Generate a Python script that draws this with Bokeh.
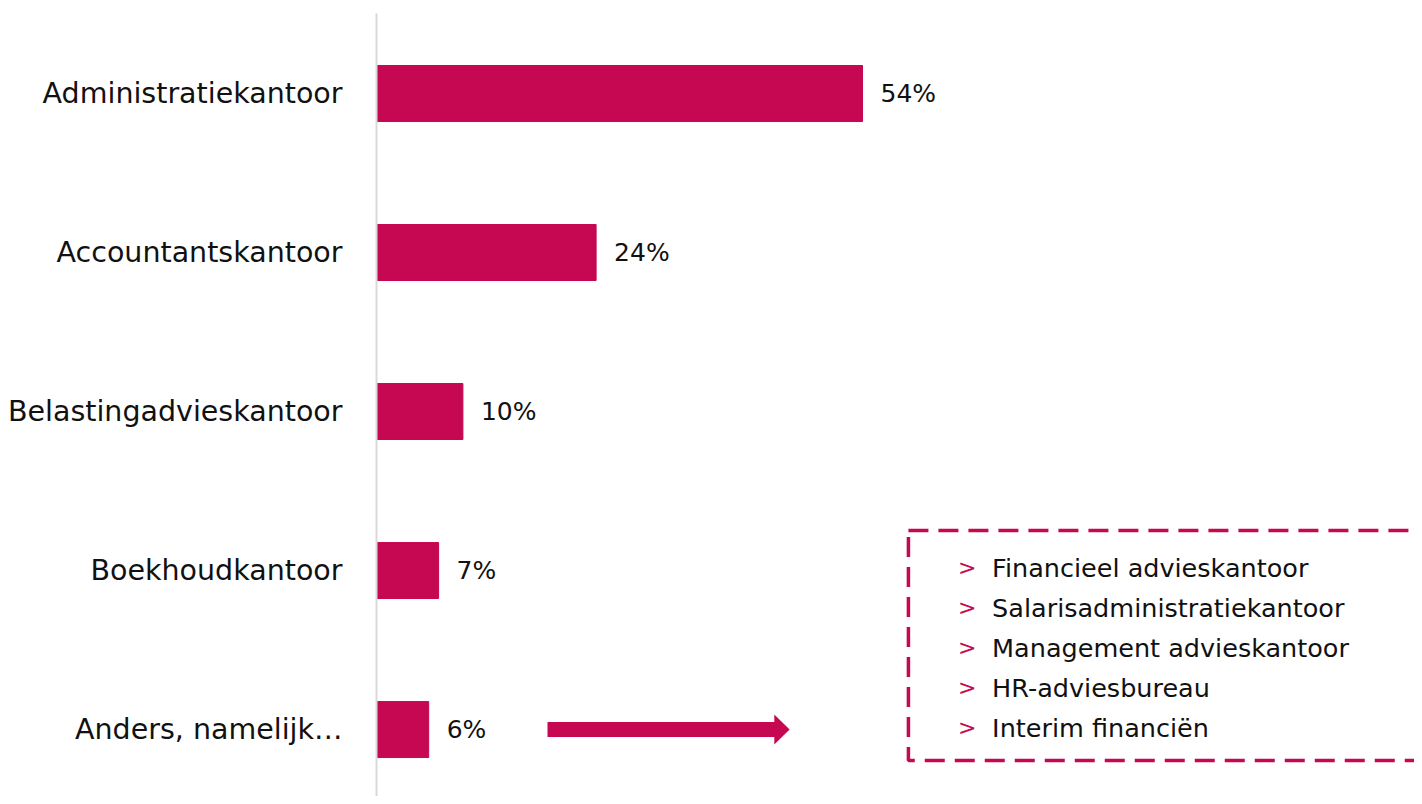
from bokeh.plotting import figure
from bokeh.models import FixedTicker, ColumnDataSource
from bokeh.embed import file_html
from bokeh.resources import INLINE
from bokeh.core.properties import value

categories = ["Administratiekantoor", "Accountantskantoor", "Belastingadvieskantoor",
              "Boekhoudkantoor", "Anders, namelijk…"]
values = [54.0, 24.4, 9.6, 6.9, 5.8]
value_labels = ["54%", "24%", "10%", "7%", "6%"]
other_items = ["Financieel advieskantoor", "Salarisadministratiekantoor",
               "Management advieskantoor", "HR-adviesbureau", "Interim financiën"]

COLOR = "#C60751"
FONT = "DejaVu Sans"

n = len(categories)
ypos = [n - 1 - i for i in range(n)]

p = figure(width=1414, height=796, output_backend="svg", toolbar_location=None,
           x_range=(0, 115.33), y_range=(-0.421, 4.503),
           min_border_left=376, min_border_right=0, min_border_top=13, min_border_bottom=0)
p.xaxis.visible = False
p.grid.visible = False
p.outline_line_color = None

src = ColumnDataSource(dict(y=ypos, v=values, lab=value_labels))
p.hbar(y="y", right="v", left=0, height=0.352, source=src, color=COLOR)
p.text(x="v", y="y", text="lab", source=src, x_offset=18, text_baseline="middle",
       text_font=value(FONT), text_font_size="25px", text_color="#111111")

ax = p.yaxis[0]
ax.ticker = FixedTicker(ticks=ypos)
ax.major_label_overrides = {y: c for y, c in zip(ypos, categories)}
ax.major_tick_line_color = None
ax.minor_tick_line_color = None
ax.axis_line_color = "#d9d9d9"
ax.axis_line_width = 2
ax.major_label_standoff = 28
ax.major_label_text_font = FONT
ax.major_label_text_font_size = "28.5px"
ax.major_label_text_color = "#111111"

# arrow (decoration)
ax0, ax1, head_x = 19.0, 45.9, 44.2
sh, hh = 0.047, 0.094
p.patch([ax0, head_x, head_x, ax1, head_x, head_x, ax0],
        [sh, sh, hh, 0, -hh, -sh, -sh], color=COLOR, line_width=0)

# dashed box (decoration)
p.quad(left=59.1, right=130, top=1.252, bottom=-0.195, fill_color=None,
       line_color=COLOR, line_width=3.5, line_dash="20 10")

step = 40 / 159
ly = [1.019 - i * step for i in range(len(other_items))]
p.text(x=[64.6] * len(other_items), y=ly, text=[">"] * len(other_items),
       text_baseline="middle", text_font=value(FONT), text_font_size="22px",
       text_color=COLOR)
p.text(x=[68.4] * len(other_items), y=ly, text=other_items,
       text_baseline="middle", text_font=value(FONT), text_font_size="25.5px",
       text_color="#111111")

open("out.html", "w").write(file_html(p, INLINE))
